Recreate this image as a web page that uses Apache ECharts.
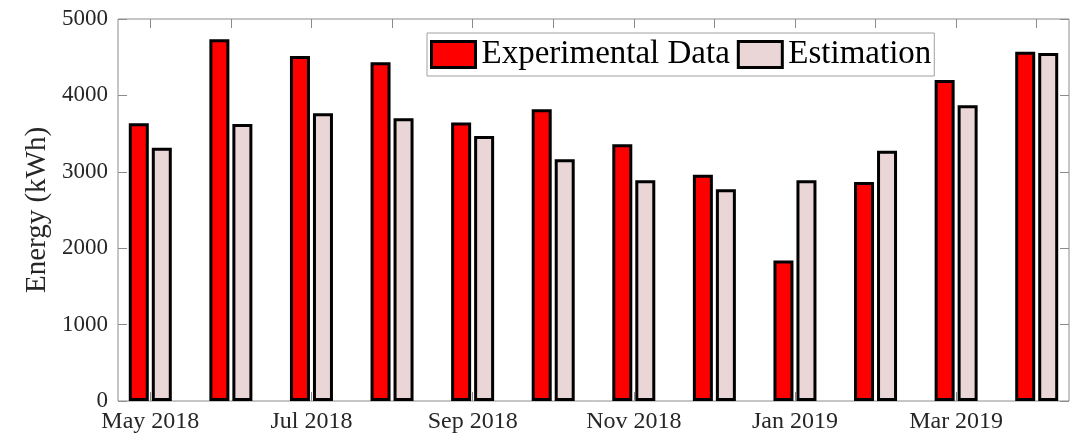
<!DOCTYPE html>
<html>
<head>
<meta charset="utf-8">
<title>Energy</title>
<script src="https://cdn.jsdelivr.net/npm/echarts@6/dist/echarts.min.js"></script>
<style>
  html, body { margin: 0; padding: 0; background: #fff; }
</style>
</head>
<body>
<div id="main" style="width:1082px; height:440px"></div>
<script>
// months on the x axis (only every other one gets a label)
var months = ['May 2018', 'Jun 2018', 'Jul 2018', 'Aug 2018', 'Sep 2018', 'Oct 2018',
  'Nov 2018', 'Dec 2018', 'Jan 2019', 'Feb 2019', 'Mar 2019', 'Apr 2019']
// kWh per month
var experimental = [3635, 4735, 4515, 4435, 3645, 3820, 3360, 2960, 1840, 2865, 4200, 4570]
var estimation = [3315, 3625, 3765, 3700, 3470, 3165, 2890, 2770, 2890, 3275, 3870, 4555]
var yTicks = [0, 1000, 2000, 3000, 4000, 5000]

var font = "'Liberation Serif', 'Times New Roman', serif"
var frameColor = '#8c8c8c'
var textColor = '#262626'

var chart = echarts.init(document.getElementById('main'))

var option = {
  animation: false,
  backgroundColor: '#fff',
  // grid 0 = visible box, grid 1 = bars (a bit wider so the box sits 0.4 band from the outer bars)
  grid: [
    { left: 118, right: 13, top: 19, bottom: 39, show: true, borderColor: frameColor, borderWidth: 1, backgroundColor: 'transparent' },
    { left: 110, right: 5, top: 19, bottom: 39 }
  ],
  legend: {
    left: 427,
    top: 33,
    orient: 'horizontal',
    icon: 'rect',
    itemWidth: 44,
    itemHeight: 26,
    itemGap: 7,
    padding: [5, 3, 5, 3],
    borderColor: '#a0a0a0',
    borderWidth: 1,
    backgroundColor: '#fff',
    itemStyle: { borderColor: '#000', borderWidth: 3 },
    textStyle: { fontFamily: font, fontSize: 33, color: '#000', padding: [0, 0, 0, 1] },
    data: ['Experimental Data', 'Estimation']
  },
  xAxis: [
    { gridIndex: 0, type: 'value', min: 0, max: 1, show: false },
    {
      gridIndex: 1,
      type: 'category',
      data: months,
      axisLine: { show: false },
      axisTick: { show: true, inside: true, alignWithLabel: true, length: 9, lineStyle: { color: frameColor } },
      axisLabel: { interval: 1, margin: 9, fontFamily: font, fontSize: 24, color: textColor }
    },
    {
      gridIndex: 1,
      type: 'category',
      position: 'top',
      data: months,
      axisLine: { show: false },
      axisTick: { show: true, inside: true, alignWithLabel: true, interval: 0, length: 9, lineStyle: { color: frameColor } },
      axisLabel: { show: false }
    }
  ],
  yAxis: [
    {
      gridIndex: 0,
      type: 'value',
      min: yTicks[0],
      max: yTicks[yTicks.length - 1],
      interval: 1000,
      name: 'Energy (kWh)',
      nameLocation: 'middle',
      nameGap: 66,
      nameMoveOverlap: false,
      nameTextStyle: { fontFamily: font, fontSize: 29, color: textColor },
      axisLine: { show: false },
      axisTick: { show: true, inside: true, length: 9, lineStyle: { color: frameColor } },
      axisLabel: {
        margin: 10,
        fontFamily: font,
        fontSize: 23,
        color: textColor,
        formatter: function (v) { return String(v) }
      },
      splitLine: { show: false }
    },
    {
      gridIndex: 0,
      type: 'value',
      position: 'right',
      min: yTicks[0],
      max: yTicks[yTicks.length - 1],
      interval: 1000,
      axisLine: { show: false },
      axisTick: { show: true, inside: true, length: 9, lineStyle: { color: frameColor } },
      axisLabel: { show: false },
      splitLine: { show: false }
    },
    {
      gridIndex: 1,
      type: 'value',
      min: yTicks[0],
      max: yTicks[yTicks.length - 1],
      show: false
    }
  ],
  series: [
    {
      name: 'Experimental Data',
      type: 'bar',
      xAxisIndex: 1,
      yAxisIndex: 2,
      data: experimental,
      barWidth: 20,
      barGap: '15%',
      itemStyle: { color: '#ff0000', borderColor: '#000', borderWidth: 3 }
    },
    {
      name: 'Estimation',
      type: 'bar',
      xAxisIndex: 1,
      yAxisIndex: 2,
      data: estimation,
      barWidth: 20,
      barGap: '15%',
      itemStyle: { color: '#ead6d6', borderColor: '#000', borderWidth: 3 }
    }
  ]
}

chart.setOption(option)
</script>
</body>
</html>
